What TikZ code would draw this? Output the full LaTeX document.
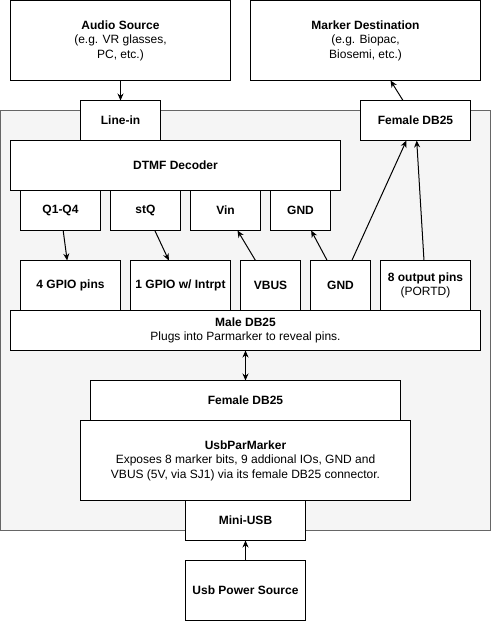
\documentclass[tikz,border=0pt]{standalone}
\usepackage{fontspec}
\setmainfont{Liberation Sans}
\usetikzlibrary{arrows.meta}
\definecolor{contfill}{HTML}{F5F5F5}
\definecolor{contline}{HTML}{666666}
\begin{document}
\begin{tikzpicture}[x=1pt,y=-1pt,
  every node/.style={font=\fontsize{12}{14.5}\selectfont},
  blk/.style={draw=black,fill=white,line width=1pt,inner sep=0pt,outer sep=0pt,align=center},
  arr/.style={-{Stealth[length=7pt,width=6pt]},line width=1pt},
  darr/.style={{Stealth[length=7pt,width=6pt]}-{Stealth[length=7pt,width=6pt]},line width=1pt}]
\useasboundingbox (-0.5,-0.5) rectangle (490.5,620.5);
% container
\draw[fill=contfill,draw=contline,line width=1pt] (0,110) rectangle (490,530);
% nodes
\node[blk,minimum width=220pt,minimum height=80pt] (audio) at (120,40) {\textbf{Audio Source}\\(e.g. VR glasses,\\PC, etc.)};
\node[blk,minimum width=230pt,minimum height=80pt] (mdest) at (365,40) {\textbf{Marker Destination}\\(e.g. Biopac,\\Biosemi, etc.)};
\node[blk,minimum width=330pt,minimum height=50pt] (dtmf) at (175,165) {\textbf{DTMF Decoder}};
\node[blk,minimum width=80pt,minimum height=40pt] (linein) at (120,120) {\textbf{Line-in}};
\node[blk,minimum width=110pt,minimum height=40pt] (fdbtop) at (415,120) {\textbf{Female DB25}};
\node[blk,minimum width=80pt,minimum height=40pt] (q14) at (60,210) {\textbf{Q1-Q4}};
\node[blk,minimum width=70pt,minimum height=40pt] (stq) at (145,210) {\textbf{stQ}};
\node[blk,minimum width=70pt,minimum height=40pt] (vin) at (225,210) {\textbf{Vin}};
\node[blk,minimum width=60pt,minimum height=40pt] (gndt) at (300,210) {\textbf{GND}};
\node[blk,minimum width=100pt,minimum height=50pt] (gpio4) at (70,285) {\textbf{4 GPIO pins}};
\node[blk,minimum width=100pt,minimum height=50pt] (gpio1) at (180,285) {\textbf{1 GPIO w/ Intrpt}};
\node[blk,minimum width=60pt,minimum height=50pt] (vbus) at (270,285) {\textbf{VBUS}};
\node[blk,minimum width=60pt,minimum height=50pt] (gndb) at (340,285) {\textbf{GND}};
\node[blk,minimum width=90pt,minimum height=50pt] (out8) at (425,285) {\textbf{8 output pins}\\(PORTD)};
\node[blk,minimum width=470pt,minimum height=40pt] (male) at (245,330) {\textbf{Male DB25}\\Plugs into Parmarker to reveal pins.};
\node[blk,minimum width=310pt,minimum height=40pt] (fdbl) at (245,400) {\textbf{Female DB25}};
\node[blk,minimum width=330pt,minimum height=80pt] (upm) at (245,460) {\textbf{UsbParMarker}\\Exposes 8 marker bits, 9 addional IOs, GND and\\VBUS (5V, via SJ1) via its female DB25 connector.};
\node[blk,minimum width=120pt,minimum height=40pt] (mini) at (245,520) {\textbf{Mini-USB}};
\node[blk,minimum width=120pt,minimum height=60pt] (ups) at (245,590) {\textbf{Usb Power Source}};
% connectors
\draw[arr] (audio) -- (linein);
\draw[arr] (fdbtop) -- (mdest);
\draw[arr] (q14) -- (gpio4);
\draw[arr] (stq) -- (gpio1);
\draw[arr] (vbus) -- (vin);
\draw[arr] (gndb) -- (gndt);
\draw[arr] (gndb) -- (fdbtop);
\draw[arr] (out8) -- (fdbtop);
\draw[darr] (male) -- (fdbl);
\draw[arr] (ups) -- (mini);
\end{tikzpicture}
\end{document}
